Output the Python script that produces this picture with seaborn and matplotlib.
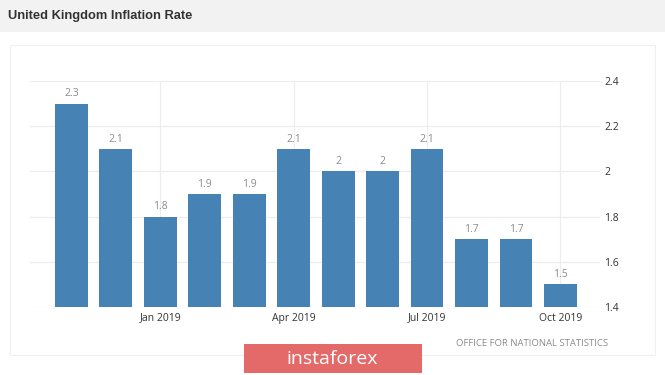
import matplotlib
matplotlib.use("Agg")
from matplotlib import pyplot as plt
import seaborn as sns
import pandas as pd

# data
months = ["Nov 2018", "Dec 2018", "Jan 2019", "Feb 2019", "Mar 2019", "Apr 2019",
          "May 2019", "Jun 2019", "Jul 2019", "Aug 2019", "Sep 2019", "Oct 2019"]
rates = [2.3, 2.1, 1.8, 1.9, 1.9, 2.1, 2.0, 2.0, 2.1, 1.7, 1.7, 1.5]
rate_labels = ["2.3", "2.1", "1.8", "1.9", "1.9", "2.1", "2", "2", "2.1", "1.7", "1.7", "1.5"]
shown_months = ["Jan 2019", "Apr 2019", "Jul 2019", "Oct 2019"]
y_ticks = [1.4, 1.6, 1.8, 2.0, 2.2, 2.4]
y_tick_labels = ["1.4", "1.6", "1.8", "2", "2.2", "2.4"]

df = pd.DataFrame({"month": months, "rate": rates})

sns.set_style("white")
plt.rcParams["font.family"] = ["Open Sans", "DejaVu Sans"]

fig = plt.figure(figsize=(6.65, 3.75), dpi=100)
fig.patch.set_facecolor("white")

# grey header band
fig.patches.append(plt.Rectangle((0, 1 - 32 / 375), 1, 32 / 375, transform=fig.transFigure,
                                 facecolor="#f2f2f2", edgecolor="none", zorder=0))
fig.text(8 / 665, 1 - 16 / 375, "United Kingdom Inflation Rate", fontsize=9.3,
         fontweight="bold", family="Liberation Sans", color="#333333", va="center")

# faint frame round the chart
fig.patches.append(plt.Rectangle((10 / 665, 1 - 355 / 375), 645 / 665, 310 / 375,
                                 transform=fig.transFigure, facecolor="none",
                                 edgecolor="#f0f0f0", lw=0.8, zorder=0))

ax = fig.add_axes([30 / 665, 1 - 307 / 375, 570 / 665, 226 / 375])
sns.barplot(data=df, x="month", y="rate", order=months, color="#4682b4",
            saturation=1, width=0.74, linewidth=0, ax=ax, zorder=3)

ax.set_ylim(1.4, 2.4)
ax.set_xlim(-0.93, 11.89)
ax.set_xlabel("")
ax.set_ylabel("")

ax.yaxis.tick_right()
ax.set_yticks(y_ticks)
ax.set_yticklabels(y_tick_labels)
ax.set_xticks([months.index(m) for m in shown_months])
ax.set_xticklabels(shown_months)
ax.tick_params(axis="both", length=0, labelsize=7.5, colors="#333333")
ax.tick_params(axis="x", pad=4)
ax.tick_params(axis="y", pad=3)

ax.grid(True, color="#ececec", lw=0.8, zorder=0)
for s in ax.spines.values():
    s.set_visible(False)

for i, lab in enumerate(rate_labels):
    ax.annotate(lab, (i, rates[i]), xytext=(0, 3), textcoords="offset points",
                ha="center", va="bottom", fontsize=7.5, color="#8c8c8c")

fig.text(608 / 665, 1 - 344 / 375, "OFFICE FOR NATIONAL STATISTICS", fontsize=6.8,
         color="#8a8a8a", ha="right", va="center")

# watermark
fig.patches.append(plt.Rectangle((244 / 665, 1 - 373 / 375), 178 / 665, 29 / 375,
                                 transform=fig.transFigure, facecolor="#e46a6a",
                                 edgecolor="none", zorder=5))
fig.text(332 / 665, 1 - 359 / 375, "instaforex", fontsize=14, color="white",
         ha="center", va="center", zorder=6)

fig.savefig("out.png", dpi=100)
